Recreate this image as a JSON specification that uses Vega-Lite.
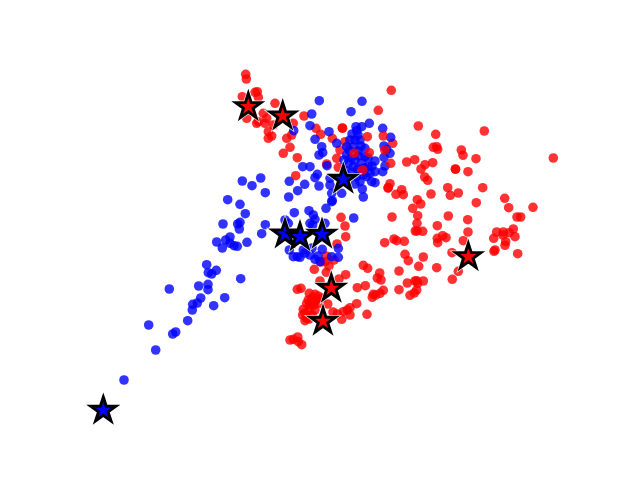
{"$schema":"https://vega.github.io/schema/vega-lite/v6.json","autosize":{"type":"fit","contains":"padding"},"width":640,"height":480,"padding":0,"background":"white","view":{"stroke":null},
"datasets":{"pts":[
{"g":"r","x":418.3,"y":126},{"g":"r","x":435.7,"y":134.3},{"g":"r","x":484.3,"y":131},{"g":"r","x":433.3,"y":147.3},{"g":"r","x":436.7,"y":146.7},{"g":"r","x":437.7,"y":149.3},{"g":"r","x":461.3,"y":150},{"g":"r","x":463,"y":155.3},{"g":"r","x":476,"y":158.7},{"g":"r","x":553.3,"y":158},{"g":"r","x":406.7,"y":162},{"g":"r","x":414.7,"y":159.7},{"g":"r","x":425,"y":164.7},{"g":"r","x":432.7,"y":162.7},{"g":"r","x":421,"y":169},{"g":"r","x":455.3,"y":169},{"g":"r","x":455.6,"y":169.2},{"g":"r","x":468,"y":171.7},{"g":"r","x":424.7,"y":177},{"g":"r","x":427.7,"y":180.3},{"g":"r","x":390,"y":183.7},{"g":"r","x":388.3,"y":187.7},{"g":"r","x":396,"y":194.3},{"g":"r","x":401.7,"y":189.7},{"g":"r","x":403.3,"y":194.7},{"g":"r","x":431,"y":194},{"g":"r","x":447.7,"y":187.7},{"g":"r","x":450.3,"y":195.3},{"g":"r","x":458.3,"y":193},{"g":"r","x":482.7,"y":187.7},{"g":"r","x":417.3,"y":199.7},{"g":"r","x":420.7,"y":204},{"g":"r","x":412.7,"y":208.3},{"g":"r","x":476.3,"y":202.7},{"g":"r","x":504.7,"y":198.3},{"g":"r","x":508.7,"y":207.7},{"g":"r","x":533,"y":207.3},{"g":"r","x":392,"y":217},{"g":"r","x":417.7,"y":215.7},{"g":"r","x":448.3,"y":216},{"g":"r","x":467.7,"y":219.7},{"g":"r","x":517,"y":217},{"g":"r","x":520.7,"y":217},{"g":"r","x":417,"y":223.3},{"g":"r","x":437.3,"y":225.7},{"g":"r","x":415.3,"y":231},{"g":"r","x":417,"y":231},{"g":"r","x":422.7,"y":231.3},{"g":"r","x":468,"y":232},{"g":"r","x":496.7,"y":232},{"g":"r","x":503.3,"y":232},{"g":"r","x":503,"y":235},{"g":"r","x":509.3,"y":232.7},{"g":"r","x":513.3,"y":229},{"g":"r","x":493.7,"y":238.3},{"g":"r","x":515,"y":236.7},{"g":"r","x":505.7,"y":241.7},{"g":"r","x":505,"y":245.3},{"g":"r","x":394,"y":239},{"g":"r","x":396.7,"y":240.7},{"g":"r","x":404.3,"y":241.3},{"g":"r","x":384.7,"y":242.7},{"g":"r","x":437.3,"y":238.3},{"g":"r","x":442.7,"y":235.7},{"g":"r","x":446,"y":237.7},{"g":"r","x":437.7,"y":242.7},{"g":"r","x":463.3,"y":240.7},{"g":"r","x":495,"y":250},{"g":"r","x":494,"y":251.3},{"g":"r","x":517.7,"y":253.7},{"g":"r","x":405,"y":254.3},{"g":"r","x":408.3,"y":260.7},{"g":"r","x":423.3,"y":257},{"g":"r","x":418.7,"y":266.3},{"g":"r","x":436.7,"y":267.7},{"g":"r","x":452,"y":252.7},{"g":"r","x":458.3,"y":271.3},{"g":"r","x":452.3,"y":279.3},{"g":"r","x":399,"y":271},{"g":"r","x":379.7,"y":273},{"g":"r","x":377.3,"y":278},{"g":"r","x":381,"y":280},{"g":"r","x":407.3,"y":283},{"g":"r","x":416.7,"y":280.7},{"g":"r","x":423.3,"y":281},{"g":"r","x":417.7,"y":283.3},{"g":"r","x":415,"y":281},{"g":"r","x":399,"y":289.7},{"g":"r","x":416.7,"y":290},{"g":"r","x":414.3,"y":293},{"g":"r","x":410,"y":295.3},{"g":"r","x":383.3,"y":290.3},{"g":"r","x":380,"y":293.3},{"g":"r","x":373.3,"y":294.3},{"g":"r","x":372.3,"y":297.3},{"g":"r","x":375.7,"y":295},
{"g":"r","x":341,"y":217.3},{"g":"r","x":345,"y":226},{"g":"r","x":345.7,"y":236.7},{"g":"r","x":337,"y":244},{"g":"r","x":326.3,"y":256},{"g":"r","x":334,"y":260},{"g":"r","x":325.3,"y":261.7},{"g":"r","x":314.3,"y":269.3},{"g":"r","x":363.3,"y":265.3},{"g":"r","x":367.7,"y":268.3},{"g":"r","x":326.3,"y":272.3},{"g":"r","x":345.7,"y":274.7},{"g":"r","x":339,"y":279},{"g":"r","x":357.3,"y":287.7},{"g":"r","x":365.3,"y":285.7},{"g":"r","x":297.3,"y":289.3},{"g":"r","x":301,"y":288.3},{"g":"r","x":320,"y":281},{"g":"r","x":309.3,"y":293.3},{"g":"r","x":315,"y":294.3},{"g":"r","x":311.7,"y":298.3},{"g":"r","x":308.3,"y":300},{"g":"r","x":310,"y":305},{"g":"r","x":306.7,"y":303.3},{"g":"r","x":303.3,"y":309.3},{"g":"r","x":302.7,"y":315},{"g":"r","x":306.7,"y":318.3},{"g":"r","x":305,"y":320.7},{"g":"r","x":315,"y":310},{"g":"r","x":319.3,"y":303.3},{"g":"r","x":327.7,"y":304},{"g":"r","x":356.7,"y":303.7},{"g":"r","x":347.3,"y":310},{"g":"r","x":350,"y":307.7},{"g":"r","x":343.3,"y":311.7},{"g":"r","x":350,"y":315},{"g":"r","x":337.3,"y":314},{"g":"r","x":341.7,"y":319.3},{"g":"r","x":367,"y":314.3},{"g":"r","x":290,"y":340},{"g":"r","x":293.3,"y":339.3},{"g":"r","x":297.7,"y":337},{"g":"r","x":298.3,"y":341.7},{"g":"r","x":301.7,"y":344.7},
{"g":"r","x":312,"y":302},{"g":"r","x":316,"y":300},{"g":"r","x":314,"y":305},{"g":"r","x":309,"y":310},{"g":"r","x":305,"y":313},{"g":"r","x":312,"y":315},{"g":"r","x":309,"y":319},{"g":"r","x":318,"y":296},{"g":"r","x":322,"y":298},{"g":"r","x":333,"y":312},{"g":"r","x":321,"y":262},{"g":"r","x":329,"y":266},
{"g":"r","x":245.7,"y":74.3},{"g":"r","x":246.3,"y":79},{"g":"r","x":242.3,"y":96.7},{"g":"r","x":255,"y":92.3},{"g":"r","x":257.3,"y":91.7},{"g":"r","x":258.3,"y":97.3},{"g":"r","x":275,"y":103.3},{"g":"r","x":246.7,"y":118.3},{"g":"r","x":256.7,"y":123.3},{"g":"r","x":258.3,"y":121.7},{"g":"r","x":263.3,"y":113.3},{"g":"r","x":266.7,"y":118.3},{"g":"r","x":265,"y":123.3},{"g":"r","x":273.3,"y":125},{"g":"r","x":268.3,"y":131.7},{"g":"r","x":268.3,"y":138.3},{"g":"r","x":271.7,"y":136},{"g":"r","x":286.7,"y":138.3},{"g":"r","x":290,"y":147.3},{"g":"r","x":291.7,"y":135},{"g":"r","x":293.3,"y":123.3},{"g":"r","x":283.3,"y":153.3},{"g":"r","x":297.3,"y":157.7},{"g":"r","x":304,"y":116},{"g":"r","x":316,"y":128.3},{"g":"r","x":320.7,"y":134.3},{"g":"r","x":332.3,"y":138.3},{"g":"r","x":342.3,"y":128},{"g":"r","x":342.6,"y":128.2},{"g":"r","x":378.3,"y":110.3},{"g":"r","x":391.3,"y":90.3},{"g":"r","x":392.7,"y":143.3},{"g":"r","x":336.7,"y":158.3},{"g":"r","x":340,"y":150},{"g":"r","x":326.7,"y":164},{"g":"r","x":338.3,"y":167.3},{"g":"r","x":345,"y":141.7},
{"g":"b","x":242.3,"y":181},{"g":"b","x":260.7,"y":178},{"g":"b","x":252,"y":185.7},{"g":"b","x":265.3,"y":192.7},{"g":"b","x":227.7,"y":199.7},{"g":"b","x":240,"y":204.3},{"g":"b","x":245.3,"y":213.7},{"g":"b","x":223,"y":224},{"g":"b","x":240,"y":222.3},{"g":"b","x":237.7,"y":224},{"g":"b","x":239.3,"y":229},{"g":"b","x":265.3,"y":224.7},{"g":"b","x":261.7,"y":233.7},{"g":"b","x":247,"y":242.3},{"g":"b","x":230,"y":237},{"g":"b","x":225.7,"y":240},{"g":"b","x":216.7,"y":242},{"g":"b","x":222.3,"y":248},{"g":"b","x":230,"y":243.3},{"g":"b","x":234,"y":245.7},{"g":"b","x":237.3,"y":246.3},{"g":"b","x":206.7,"y":264.7},{"g":"b","x":216.3,"y":270.3},{"g":"b","x":208.3,"y":272.7},{"g":"b","x":211.7,"y":274},{"g":"b","x":240.7,"y":278.7},{"g":"b","x":208,"y":284.3},{"g":"b","x":198.7,"y":286},{"g":"b","x":208,"y":289.7},{"g":"b","x":169.3,"y":289},{"g":"b","x":200.7,"y":298},{"g":"b","x":224.7,"y":297.7},{"g":"b","x":197.3,"y":303},{"g":"b","x":192.7,"y":304.3},{"g":"b","x":213.7,"y":305.7},{"g":"b","x":192.3,"y":310},{"g":"b","x":187.7,"y":320.7},{"g":"b","x":148.7,"y":325},{"g":"b","x":175.7,"y":332},{"g":"b","x":172.7,"y":334},{"g":"b","x":155.7,"y":350},{"g":"b","x":124,"y":380},
{"g":"b","x":294.3,"y":212.7},{"g":"b","x":309,"y":210.7},{"g":"b","x":313.3,"y":215},{"g":"b","x":326,"y":208.3},{"g":"b","x":332.3,"y":200.7},{"g":"b","x":353.7,"y":218},{"g":"b","x":315,"y":219.3},{"g":"b","x":310,"y":223.3},{"g":"b","x":312.7,"y":225},{"g":"b","x":325,"y":223.3},{"g":"b","x":285,"y":220},{"g":"b","x":288.3,"y":223.3},{"g":"b","x":293.3,"y":256.7},{"g":"b","x":297.3,"y":256.7},{"g":"b","x":300,"y":257.3},{"g":"b","x":289.3,"y":250},{"g":"b","x":303.3,"y":250},{"g":"b","x":315,"y":259.3},{"g":"b","x":322.3,"y":249.3},{"g":"b","x":338.3,"y":248.3},{"g":"b","x":338.3,"y":257.3},{"g":"b","x":320,"y":261.7},{"g":"b","x":331.7,"y":256.7},{"g":"b","x":310,"y":255},{"g":"b","x":305,"y":253},{"g":"b","x":318,"y":256},{"g":"b","x":312,"y":248},
{"g":"b","x":293.7,"y":130.7},{"g":"b","x":319.3,"y":100.7},{"g":"b","x":362,"y":101.3},{"g":"b","x":351,"y":111.7},{"g":"b","x":311.7,"y":114},{"g":"b","x":310,"y":125.7},{"g":"b","x":329,"y":131.7},{"g":"b","x":315,"y":139.3},{"g":"b","x":336.7,"y":143.3},{"g":"b","x":321.7,"y":146.7},{"g":"b","x":322.7,"y":152.7},{"g":"b","x":319,"y":155},{"g":"b","x":369.3,"y":123.3},{"g":"b","x":356,"y":126.7},{"g":"b","x":361.7,"y":126.7},{"g":"b","x":356.7,"y":130.7},{"g":"b","x":382.7,"y":128.3},{"g":"b","x":390.7,"y":137.3},{"g":"b","x":384,"y":146},{"g":"b","x":386.7,"y":149.3},{"g":"b","x":384,"y":157.3},{"g":"b","x":390,"y":153.3},{"g":"b","x":375,"y":161},{"g":"b","x":385,"y":166},{"g":"b","x":382.7,"y":171.7},{"g":"b","x":375,"y":171.7},{"g":"b","x":370,"y":173.3},{"g":"b","x":371.7,"y":181.7},{"g":"b","x":375,"y":182.7},{"g":"b","x":362.3,"y":189},{"g":"b","x":363.3,"y":197},{"g":"b","x":355,"y":184},{"g":"b","x":356.7,"y":176.7},{"g":"b","x":350,"y":140},{"g":"b","x":355,"y":140},{"g":"b","x":360,"y":140},{"g":"b","x":346.7,"y":146.7},{"g":"b","x":353.3,"y":146.7},{"g":"b","x":365,"y":148.3},{"g":"b","x":346.7,"y":155},{"g":"b","x":355,"y":160},{"g":"b","x":365,"y":156.7},{"g":"b","x":348.3,"y":163.3},{"g":"b","x":361.7,"y":163.3},{"g":"b","x":368.3,"y":166.7},{"g":"b","x":353.3,"y":166.7},{"g":"b","x":345,"y":170},{"g":"b","x":363.3,"y":175},{"g":"b","x":366.7,"y":176.7},{"g":"b","x":360,"y":181.7},{"g":"b","x":302.7,"y":166.7},{"g":"b","x":310,"y":166.7},{"g":"b","x":317.3,"y":174.3},{"g":"b","x":315,"y":177.7},{"g":"b","x":304.7,"y":184.3},{"g":"b","x":319,"y":186},{"g":"b","x":289.3,"y":181.3},{"g":"b","x":297.7,"y":190.7},{"g":"b","x":288.7,"y":197},{"g":"b","x":327,"y":165.7},{"g":"b","x":330,"y":178.3},{"g":"b","x":330,"y":185},{"g":"b","x":331.7,"y":193.3},{"g":"b","x":341.7,"y":193.3},{"g":"b","x":331.7,"y":201.7},
{"g":"b","x":352,"y":134},{"g":"b","x":358,"y":135},{"g":"b","x":349,"y":150},{"g":"b","x":358,"y":151},{"g":"b","x":351,"y":158},{"g":"b","x":359,"y":156},{"g":"b","x":344,"y":160},{"g":"b","x":352,"y":172},{"g":"b","x":358,"y":169},{"g":"b","x":364,"y":168},{"g":"b","x":372,"y":166},{"g":"b","x":348,"y":177},{"g":"b","x":361,"y":146},{"g":"b","x":368,"y":158},
{"g":"r","x":367.3,"y":136.7},{"g":"r","x":383.3,"y":136},{"g":"r","x":384.7,"y":150},{"g":"r","x":390.7,"y":163.3},{"g":"r","x":354,"y":153.3},{"g":"r","x":369.3,"y":152.7},{"g":"r","x":362.7,"y":170},{"g":"r","x":295.7,"y":175.7},{"g":"r","x":388,"y":188}
],"stars":[
{"g":"b","x":103.3,"y":410.3},{"g":"b","x":343.3,"y":179.3},{"g":"b","x":285,"y":234},{"g":"b","x":300,"y":236.7},{"g":"b","x":322,"y":234.3},
{"g":"r","x":248.3,"y":106.7},{"g":"r","x":282.7,"y":116},{"g":"r","x":331.3,"y":288.3},{"g":"r","x":323,"y":321.3},{"g":"r","x":468.3,"y":256.7}
]},
"encoding":{
"x":{"field":"x","type":"quantitative","scale":{"domain":[0,640]},"axis":null},
"y":{"field":"y","type":"quantitative","scale":{"domain":[0,480],"reverse":true},"axis":null},
"color":{"field":"g","type":"nominal","scale":{"domain":["b","r"],"range":["#0000ff","#ff0000"]},"legend":null}},
"layer":[
{"data":{"name":"pts"},"mark":{"type":"circle","size":92,"opacity":0.8}},
{"data":{"name":"stars"},"mark":{"type":"point","filled":true,"opacity":1,"shape":"M0,-1L0.2245,-0.309L0.9511,-0.309L0.3633,0.118L0.5878,0.809L0,0.382L-0.5878,0.809L-0.3633,0.118L-0.9511,-0.309L-0.2245,-0.309Z","size":700,"stroke":"white","strokeWidth":4.4,"strokeOpacity":0.8,"strokeJoin":"miter","strokeMiterLimit":10}},
{"data":{"name":"stars"},"mark":{"type":"point","filled":true,"opacity":1,"shape":"M0,-1L0.2245,-0.309L0.9511,-0.309L0.3633,0.118L0.5878,0.809L0,0.382L-0.5878,0.809L-0.3633,0.118L-0.9511,-0.309L-0.2245,-0.309Z","size":700,"stroke":"black","strokeWidth":2.9,"strokeJoin":"miter","strokeMiterLimit":10}}
]}
